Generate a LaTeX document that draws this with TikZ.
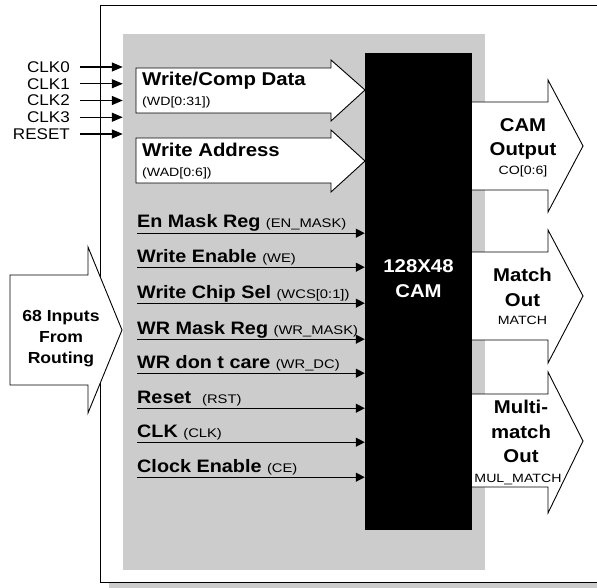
\documentclass[tikz,border=0pt]{standalone}
\usepackage{fontspec}
\setmainfont[FakeStretch=1.1]{Liberation Sans}
\newfontfamily\widefont[FakeStretch=1.18]{Liberation Sans}
\usetikzlibrary{arrows.meta, positioning}
\definecolor{panelgray}{gray}{0.8}
\newcommand{\sigsub}[1]{{\widefont\mdseries\fontsize{12.5}{14}\selectfont #1}}

\begin{document}
\begin{tikzpicture}[x=1pt, y=-1pt,
		bigtxt/.style={font=\fontsize{18.5}{22}\selectfont\bfseries, inner sep=0pt},
		sigtxt/.style={font=\fontsize{18}{21}\selectfont\bfseries, inner sep=0pt, anchor=base west, text depth=5pt},
		subtxt/.style={font=\widefont\fontsize{12}{14}\selectfont, inner sep=0pt},
		clktxt/.style={font=\fontsize{15.5}{18}\selectfont, inner sep=0pt, anchor=east, text height=11pt, text depth=0pt},
		routetxt/.style={font=\fontsize{16}{19}\selectfont\bfseries, inner sep=0pt, anchor=base},
		fatarrow/.style={draw, fill=white, line width=0.9pt, line join=miter},
		sigline/.style={line width=1.2pt, -{Triangle[length=9pt,width=9pt]}},
		clkline/.style={line width=1.3pt, shorten <=10pt, -{Triangle[length=11pt,width=9pt]}}]
			\useasboundingbox (0,0) rectangle (597,588);
			\clip (0,0) rectangle (597,588);
			
			% Outer box with shadow
			\fill[panelgray] (109,582) rectangle (610,592);
			\draw[fill=white, line width=1pt] (610,6) -- (100,6) -- (100,582) -- (610,582);
			
			% Gray panel and CAM block
			\node[fill=panelgray, inner sep=0pt, minimum width=362pt, minimum height=536pt] (panel) at (304,302) {};
			\node[fill=black, inner sep=0pt, minimum width=107pt, minimum height=477pt] (cam) at (418.5,291.5) {};
			\node[bigtxt, text=white, anchor=base] (camsize) at (418.5,272) {128X48};
			\node[bigtxt, text=white, anchor=base] (camname) at (418.5,297) {CAM};
			
			% Clock inputs
			\node[clktxt] (clk0) at (70,67) {CLK0};
			\node[clktxt] (clk1) at (70,83.75) {CLK1};
			\node[clktxt] (clk2) at (70,100.5) {CLK2};
			\node[clktxt] (clk3) at (70,117.25) {CLK3};
			\node[clktxt] (reset) at (70,134) {RESET};
			\draw[clkline] (clk0.east) -- (clk0.east -| panel.west);
			\draw[clkline] (clk1.east) -- (clk1.east -| panel.west);
			\draw[clkline] (clk2.east) -- (clk2.east -| panel.west);
			\draw[clkline] (clk3.east) -- (clk3.east -| panel.west);
			\draw[clkline] (reset.east) -- (reset.east -| panel.west);
			
			% Bus inputs
			\draw[fatarrow] (136,68) -- (331,68) -- (331,60) -- (365,90) -- (331,121) -- (331,113) -- (136,113) -- cycle;
			\node[bigtxt, anchor=base west] (wdata) at (142,86) {Write/Comp Data};
			\node[subtxt, anchor=base west] (wdatasub) at (142,106) {(WD[0:31])};
			\draw[fatarrow] (136,138) -- (331,138) -- (331,130) -- (365,161) -- (331,192) -- (331,183) -- (136,183) -- cycle;
			\node[bigtxt, anchor=base west] (waddr) at (142,157) {Write Address};
			\node[subtxt, anchor=base west] (waddrsub) at (142,177) {(WAD[0:6])};
			
			% Routing input
			\draw[fatarrow] (10,275) -- (88,275) -- (88,247) -- (122,330) -- (88,413) -- (88,385) -- (10,385) -- cycle;
			\node[routetxt] (route1) at (61,321) {68 Inputs};
			\node[routetxt] (route2) at (61,342) {From};
			\node[routetxt] (route3) at (61,363) {Routing};
			
			% Outputs
			\draw[fatarrow] (472,102) -- (548,102) -- (548,80) -- (583,146) -- (548,212) -- (548,190) -- (472,190);
			\node[bigtxt, anchor=base] (camout1) at (523,132) {CAM};
			\node[bigtxt, anchor=base] (camout2) at (523,156) {Output};
			\node[subtxt, anchor=base] (camout3) at (523,175) {CO[0:6]};
			\draw[fatarrow] (472,252) -- (548,252) -- (548,230) -- (583,296) -- (548,363) -- (548,340) -- (472,340);
			\node[bigtxt, anchor=base] (match1) at (522.5,281) {Match};
			\node[bigtxt, anchor=base] (match2) at (522.5,306) {Out};
			\node[subtxt, anchor=base] (match3) at (522.5,324) {MATCH};
			\draw[fatarrow] (472,394) -- (548,394) -- (548,372) -- (583,441) -- (548,513) -- (548,487) -- (472,487);
			\node[bigtxt, anchor=base] (multi1) at (521,413) {Multi-};
			\node[bigtxt, anchor=base] (multi2) at (521,438) {match};
			\node[bigtxt, anchor=base] (multi3) at (521,462) {Out};
			\node[subtxt, anchor=base] (multi4) at (518,482) {MUL\_MATCH};
			
			% Control signals
			\node[sigtxt] (enmask) at (137,228) {En Mask Reg \sigsub{(EN\_MASK)}};
			\node[sigtxt] (wen) at (137,262) {Write Enable \sigsub{(WE)}};
			\node[sigtxt] (wcs) at (137,298) {Write Chip Sel \sigsub{(WCS[0:1])}};
			\node[sigtxt] (wrmask) at (137,334) {WR Mask Reg \sigsub{(WR\_MASK)}};
			\node[sigtxt] (wrdc) at (137,368) {WR don t care \sigsub{(WR\_DC)}};
			\node[sigtxt] (rst) at (137,403) {Reset\ \ \sigsub{(RST)}};
			\node[sigtxt] (clk) at (137,437) {CLK \sigsub{(CLK)}};
			\node[sigtxt] (ce) at (137,472) {Clock Enable \sigsub{(CE)}};
			\draw[sigline] (enmask.south west) -- (enmask.south west -| cam.west);
			\draw[sigline] (wen.south west) -- (wen.south west -| cam.west);
			\draw[sigline] (wcs.south west) -- (wcs.south west -| cam.west);
			\draw[sigline] (wrmask.south west) -- (wrmask.south west -| cam.west);
			\draw[sigline] (wrdc.south west) -- (wrdc.south west -| cam.west);
			\draw[sigline] (rst.south west) -- (rst.south west -| cam.west);
			\draw[sigline] (clk.south west) -- (clk.south west -| cam.west);
			\draw[sigline] (ce.south west) -- (ce.south west -| cam.west);
		\end{tikzpicture}
\end{document}
